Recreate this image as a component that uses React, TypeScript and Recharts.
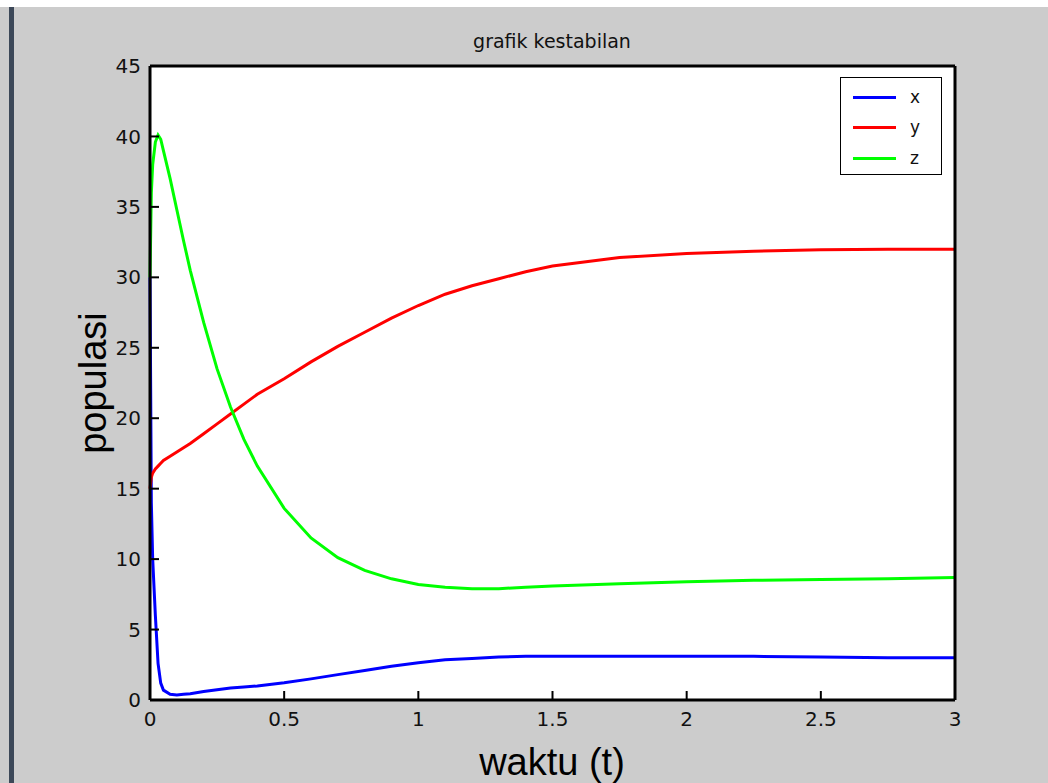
import React from "react";
import {
  LineChart,
  Line,
  XAxis,
  YAxis,
  CartesianGrid,
  Legend,
} from "recharts";

// time samples (waktu) and the three populations
const waktu = [
  0, 0.005, 0.01, 0.02, 0.03, 0.04, 0.05, 0.075, 0.1, 0.125, 0.15, 0.2, 0.25,
  0.3, 0.35, 0.4, 0.5, 0.6, 0.7, 0.8, 0.9, 1.0, 1.1, 1.2, 1.3, 1.4, 1.5, 1.75,
  2.0, 2.25, 2.5, 2.75, 3.0,
];
const popX = [
  30, 14, 10, 6, 2.6, 1.2, 0.7, 0.4, 0.35, 0.4, 0.45, 0.6, 0.72, 0.85, 0.93,
  1.0, 1.22, 1.5, 1.8, 2.1, 2.4, 2.65, 2.85, 2.95, 3.05, 3.1, 3.1, 3.1, 3.1,
  3.1, 3.05, 3.0, 3.0,
];
const popY = [
  15, 15.8, 16.1, 16.4, 16.6, 16.8, 17.0, 17.3, 17.6, 17.9, 18.2, 18.9, 19.6,
  20.3, 21.0, 21.7, 22.8, 24.0, 25.1, 26.1, 27.1, 28.0, 28.8, 29.4, 29.9, 30.4,
  30.8, 31.4, 31.7, 31.85, 31.95, 32.0, 32.0,
];
const popZ = [
  30, 36, 38, 39.6, 40.1, 39.8, 39.0, 37.0, 34.8, 32.6, 30.5, 26.8, 23.5, 20.8,
  18.5, 16.6, 13.6, 11.5, 10.1, 9.2, 8.6, 8.2, 8.0, 7.9, 7.9, 8.0, 8.1, 8.25,
  8.4, 8.5, 8.55, 8.6, 8.7,
];
const xTicks = [0, 0.5, 1, 1.5, 2, 2.5, 3];
const yTicks = [0, 5, 10, 15, 20, 25, 30, 35, 40, 45];

const data = waktu.map((t, i) => ({
  t,
  x: popX[i],
  y: popY[i],
  z: popZ[i],
}));

const tickFont = { fill: "#111", fontSize: 20, fontFamily: "DejaVu Sans" };
const axisLine = { stroke: "#000", strokeWidth: 3 };
const tickLine = { stroke: "#000", strokeWidth: 2 };

function LegendBox({ payload }: any) {
  return (
    <div
      style={{
        width: 102,
        height: 98,
        background: "#fff",
        border: "1px solid #000",
        fontFamily: "DejaVu Sans",
        fontSize: 17,
        boxSizing: "border-box",
        paddingTop: 4,
      }}
    >
      {(payload || []).map((p: any) => (
        <div
          key={p.value}
          style={{ display: "flex", alignItems: "center", height: 30.5 }}
        >
          <div
            style={{
              marginLeft: 12,
              width: 43,
              height: 3,
              background: p.color,
            }}
          />
          <span style={{ marginLeft: 14, color: "#111", lineHeight: 1 }}>
            {p.value}
          </span>
        </div>
      ))}
    </div>
  );
}

export default function App() {
  return (
    <div
      style={{
        position: "absolute",
        left: 0,
        top: 0,
        width: 1048,
        height: 783,
        background: "#cccccc",
        overflow: "hidden",
      }}
    >
      <div
        style={{
          position: "absolute",
          left: 0,
          top: 0,
          width: 1048,
          height: 7,
          background: "#fff",
        }}
      />
      <div
        style={{
          position: "absolute",
          left: 9,
          top: 7,
          width: 5,
          height: 776,
          background: "#3c4858",
        }}
      />
      <LineChart
        width={1048}
        height={783}
        data={data}
        margin={{ top: 65, right: 92, bottom: 53, left: 110 }}
      >
        <CartesianGrid
          fill="#fff"
          horizontal={false}
          vertical={false}
          stroke="none"
        />
        <XAxis
          dataKey="t"
          type="number"
          domain={[0, 3]}
          ticks={xTicks}
          height={30}
          tickSize={-9}
          tickMargin={21}
          axisLine={axisLine}
          tickLine={tickLine}
          tick={tickFont}
          interval={0}
        />
        <XAxis
          xAxisId="top"
          dataKey="t"
          type="number"
          orientation="top"
          domain={[0, 3]}
          ticks={xTicks}
          height={1}
          tickSize={-9}
          axisLine={axisLine}
          tickLine={tickLine}
          tick={false}
          interval={0}
        />
        <YAxis
          type="number"
          domain={[0, 45]}
          ticks={yTicks}
          width={40}
          tickSize={-9}
          tickMargin={18}
          axisLine={axisLine}
          tickLine={tickLine}
          tick={tickFont}
          interval={0}
        />
        <YAxis
          yAxisId="right"
          type="number"
          orientation="right"
          domain={[0, 45]}
          ticks={yTicks}
          width={1}
          tickSize={-9}
          axisLine={axisLine}
          tickLine={tickLine}
          tick={false}
          interval={0}
        />
        <Legend
          layout="vertical"
          align="center"
          verticalAlign="middle"
          content={<LegendBox />}
          wrapperStyle={{ position: "absolute", top: 77, left: 840, width: 102 }}
        />
        <Line
          dataKey="x"
          name="x"
          stroke="#0000ff"
          strokeWidth={3}
          dot={false}
          isAnimationActive={false}
        />
        <Line
          dataKey="y"
          name="y"
          stroke="#ff0000"
          strokeWidth={3}
          dot={false}
          isAnimationActive={false}
        />
        <Line
          dataKey="z"
          name="z"
          stroke="#00ff00"
          strokeWidth={3}
          dot={false}
          isAnimationActive={false}
        />
      </LineChart>
      <div
        style={{
          position: "absolute",
          left: 352,
          width: 400,
          top: 30,
          textAlign: "center",
          fontFamily: "DejaVu Sans",
          fontSize: 19,
          color: "#111",
        }}
      >
        grafik kestabilan
      </div>
      <div
        style={{
          position: "absolute",
          left: 352,
          width: 400,
          top: 740,
          textAlign: "center",
          fontFamily: "Liberation Sans",
          fontSize: 38,
          color: "#000",
          lineHeight: "44px",
        }}
      >
        waktu (t)
      </div>
      <div
        style={{
          position: "absolute",
          left: 93 - 150,
          top: 383 - 22,
          width: 300,
          height: 44,
          lineHeight: "44px",
          textAlign: "center",
          fontFamily: "Liberation Sans",
          fontSize: 38,
          color: "#000",
          transform: "rotate(-90deg)",
        }}
      >
        populasi
      </div>
    </div>
  );
}
